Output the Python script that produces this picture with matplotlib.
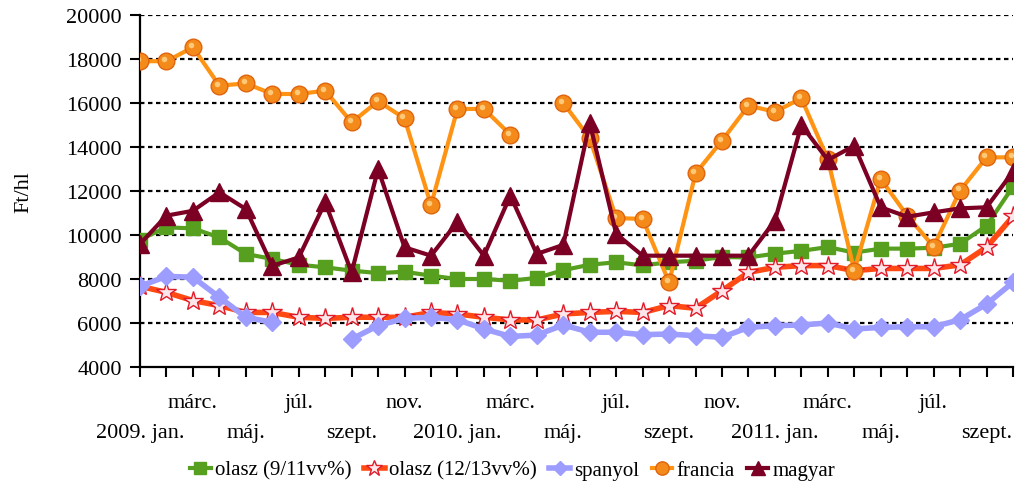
import numpy as np
import matplotlib
matplotlib.use("Agg")
import matplotlib.pyplot as plt
from matplotlib.transforms import ScaledTranslation

plt.rcParams['font.family'] = ['Liberation Serif', 'DejaVu Serif']

# months: 2009 jan .. 2011 okt
months = ["jan.", "febr.", "márc.", "ápr.", "máj.", "jún.",
          "júl.", "aug.", "szept.", "okt.", "nov.", "dec."]
years = [2009, 2010, 2011]
n_points = 34

olasz_9_11 = [9790, 10350, 10300, 9890, 9140, 8910, 8650, 8530, 8380, 8270,
              8330, 8150, 8000, 8000, 7920, 8050, 8400, 8650, 8760, 8620,
              8760, 8830, 9000, 8980, 9150, 9280, 9450, 9200, 9380, 9380,
              9420, 9600, 10420, 12200]
olasz_12_13 = [7670, 7390, 7020, 6790, 6480, 6480, 6260, 6210, 6260, 6260,
               6260, 6480, 6410, 6260, 6140, 6140, 6410, 6480, 6530, 6480,
               6790, 6670, 7470, 8300, 8530, 8610, 8610, 8380, 8480, 8480,
               8480, 8640, 9440, 10850]
spanyol = [7670, 8120, 8080, 7170, 6260, 6030, None, None, 5270, 5880,
           6210, 6260, 6150, 5730, 5390, 5450, 5910, 5580, 5580, 5470,
           5500, 5420, 5350, 5800, 5880, 5910, 6000, 5730, 5800, 5830,
           5830, 6150, 6860, 7850]
francia = [17900, 17900, 18530, 16790, 16890, 16410, 16410, 16560, 15120, 16080,
           15300, 11360, 15730, 15730, 14560, None, 16000, 14400, 10770, 10730,
           7850, 12800, 14290, 15880, 15600, 16210, 13450, 8380, 12550, 10880,
           9470, 12020, 13530, 13530]
magyar = [9590, 10880, 11100, 11940, 11180, 8600, 8980, 11480, 8300, 13000,
          9440, 9060, 10600, 9060, 11790, 9140, 9550, 15100, 10050, 9060,
          9060, 9060, 9060, 9060, 10650, 15000, 13410, 14060, 11260, 10830,
          11030, 11210, 11260, 12880]


def to_arr(vals):
    return np.array([np.nan if v is None else v for v in vals], dtype=float)


x = np.arange(n_points)


def month_name(i):
    name = months[i % 12]
    if i % 12 == 0:
        name = f"{years[i // 12]}. {name}"
    return name


# upper row: márc., júl., nov. ... ; lower row: jan., máj., szept. ...
upper_pos = [i for i in x if i % 4 != 0]
upper_lab = [month_name(i) if i % 4 == 2 else "" for i in upper_pos]
lower_pos = [i for i in x if i % 4 == 0]
lower_lab = [month_name(i) for i in lower_pos]

fig = plt.figure(figsize=(10.25, 4.85), dpi=100)
ax = fig.add_axes([140 / 1025, 1 - 368 / 485, (1013 - 140) / 1025, (368 - 16) / 485])

ax.plot(x, to_arr(olasz_9_11), color='#579f1f', lw=3, marker='s', ms=10,
        mfc='#579f1f', mec='#579f1f', label='olasz (9/11vv%)', zorder=3)
ax.plot(x, to_arr(olasz_12_13), color='#ff4a14', lw=4, marker='*', ms=15,
        mfc='#fde6ea', mec='#e01c2a', mew=1.0, label='olasz (12/13vv%)', zorder=4)
ax.plot(x, to_arr(spanyol), color='#9d9dff', lw=4, marker='D', ms=9,
        mfc='#9d9dff', mec='#9d9dff', label='spanyol', zorder=5)
ax.plot(x, to_arr(francia), color='#ff9314', lw=3, marker='o', ms=12,
        mfc='#f38a1a', mec='#e0640e', mew=1.0, label='francia', zorder=6)
# highlight on the spheres
hl = ax.transData + ScaledTranslation(-1.5 / 72, 1.5 / 72, fig.dpi_scale_trans)
ax.plot(x, to_arr(francia), ls='none', marker='o', ms=4, mfc='#ffc877',
        mec='none', transform=hl, zorder=6.5)
ax.plot(x, to_arr(magyar), color='#7b0024', lw=3, marker='^', ms=13,
        mfc='#7b0024', mec='#7b0024', label='magyar', zorder=7)

ax.set_xlim(0, n_points - 1)
ax.set_ylim(4000, 20000)
ax.set_yticks(np.arange(4000, 20001, 2000))
ax.set_xticks(upper_pos)
ax.set_xticklabels(upper_lab, fontsize=16)
ax.set_xticks(lower_pos, minor=True)
ax.set_xticklabels(lower_lab, minor=True, fontsize=16)

for y in range(6000, 20001, 2000):
    ax.axhline(y, color='black', lw=1.6, ls=(0, (2, 1.6)), zorder=1)

for s in ['top', 'right']:
    ax.spines[s].set_visible(False)
ax.spines['left'].set_linewidth(1.6)
ax.spines['bottom'].set_linewidth(1.6)
ax.tick_params(axis='both', which='both', direction='out', length=7, width=1.5,
               labelsize=16)
ax.tick_params(axis='x', which='major', pad=12)
ax.tick_params(axis='x', which='minor', pad=33)
ax.tick_params(axis='y', pad=6)
ax.set_ylabel('Ft/hl', fontsize=16, labelpad=24)

fig.legend(loc='lower center', bbox_to_anchor=(0.5, -0.03), ncol=5, frameon=False,
           fontsize=15, handlelength=1.0, handletextpad=0.2, columnspacing=0.6,
           markerscale=0.8)

fig.savefig('out.png', dpi=100)
